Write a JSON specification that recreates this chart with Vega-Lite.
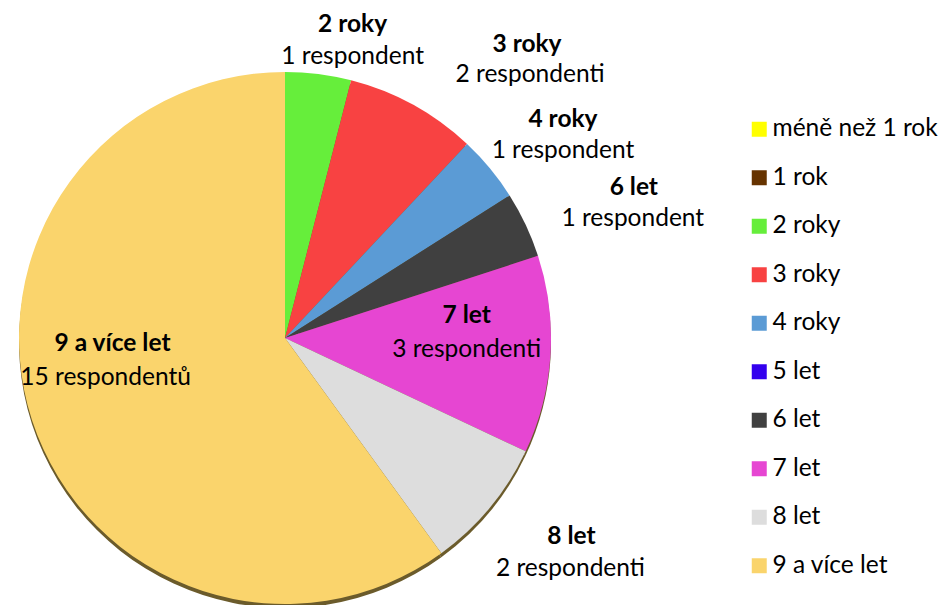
{
  "$schema": "https://vega.github.io/schema/vega-lite/v6.json",
  "width": 570,
  "height": 530,
  "autosize": "none",
  "padding": {"left": 0, "top": 73, "right": 372, "bottom": 2},
  "background": "white",
  "data": {"values": [
    {"cat": "méně než 1 rok", "n": 0, "idx": 1, "popis": "0 respondentů"},
    {"cat": "1 rok", "n": 0, "idx": 2, "popis": "0 respondentů"},
    {"cat": "2 roky", "n": 1, "idx": 3, "popis": "1 respondent"},
    {"cat": "3 roky", "n": 2, "idx": 4, "popis": "2 respondenti"},
    {"cat": "4 roky", "n": 1, "idx": 5, "popis": "1 respondent"},
    {"cat": "5 let", "n": 0, "idx": 6, "popis": "0 respondentů"},
    {"cat": "6 let", "n": 1, "idx": 7, "popis": "1 respondent"},
    {"cat": "7 let", "n": 3, "idx": 8, "popis": "3 respondenti"},
    {"cat": "8 let", "n": 2, "idx": 9, "popis": "2 respondenti"},
    {"cat": "9 a více let", "n": 15, "idx": 10, "popis": "15 respondentů"}
  ]},
  "encoding": {
    "theta": {"field": "n", "type": "quantitative", "stack": true},
    "order": {"field": "idx", "type": "quantitative"}
  },
  "layer": [
    {"mark": {"type": "arc", "radius": 266, "yOffset": 4, "fill": "#6b5b2b", "stroke": null},
     "encoding": {"detail": {"field": "cat"}}},
    {"mark": {"type": "arc", "radius": 266, "stroke": null},
     "encoding": {"color": {"field": "cat", "type": "nominal",
       "scale": {"domain": ["méně než 1 rok", "1 rok", "2 roky", "3 roky", "4 roky", "5 let", "6 let", "7 let", "8 let", "9 a více let"],
                 "range": ["#FFFF00", "#663300", "#66EE3B", "#F84242", "#5B9BD5", "#3300EE", "#404040", "#E646D2", "#DDDDDD", "#FAD46C"]},
       "legend": {"title": null, "orient": "none", "legendX": 747, "legendY": 44, "symbolType": "square", "symbolSize": 225, "symbolStrokeWidth": 0, "labelFontSize": 24.5, "labelFont": "Lato", "labelColor": "#000", "rowPadding": 23.5, "labelOffset": 1, "labelLimit": 300}}}},
    {"mark": {"type": "text", "radius": 300, "dx": 30, "dy": -15, "fontWeight": "bold"},
     "encoding": {"detail": {"field": "cat"}, "text": {"condition": {"test": "datum.cat === '2 roky'", "field": "cat"}, "value": ""}}},
    {"mark": {"type": "text", "radius": 300, "dx": 30, "dy": 17},
     "encoding": {"detail": {"field": "cat"}, "text": {"condition": {"test": "datum.cat === '2 roky'", "field": "popis"}, "value": ""}}},
    {"mark": {"type": "text", "radius": 330, "dx": 83, "dy": -4, "fontWeight": "bold"},
     "encoding": {"detail": {"field": "cat"}, "text": {"condition": {"test": "datum.cat === '3 roky'", "field": "cat"}, "value": ""}}},
    {"mark": {"type": "text", "radius": 330, "dx": 86, "dy": 26},
     "encoding": {"detail": {"field": "cat"}, "text": {"condition": {"test": "datum.cat === '3 roky'", "field": "popis"}, "value": ""}}},
    {"mark": {"type": "text", "radius": 340, "dx": 16, "dy": -1, "fontWeight": "bold"},
     "encoding": {"detail": {"field": "cat"}, "text": {"condition": {"test": "datum.cat === '4 roky'", "field": "cat"}, "value": ""}}},
    {"mark": {"type": "text", "radius": 340, "dx": 16, "dy": 30},
     "encoding": {"detail": {"field": "cat"}, "text": {"condition": {"test": "datum.cat === '4 roky'", "field": "popis"}, "value": ""}}},
    {"mark": {"type": "text", "radius": 370, "dx": 14, "dy": 8, "fontWeight": "bold"},
     "encoding": {"detail": {"field": "cat"}, "text": {"condition": {"test": "datum.cat === '6 let'", "field": "cat"}, "value": ""}}},
    {"mark": {"type": "text", "radius": 370, "dx": 13, "dy": 39},
     "encoding": {"detail": {"field": "cat"}, "text": {"condition": {"test": "datum.cat === '6 let'", "field": "popis"}, "value": ""}}},
    {"mark": {"type": "text", "radius": 182, "dx": 0, "dy": -33, "fontWeight": "bold"},
     "encoding": {"detail": {"field": "cat"}, "text": {"condition": {"test": "datum.cat === '7 let'", "field": "cat"}, "value": ""}}},
    {"mark": {"type": "text", "radius": 182, "dx": 0, "dy": 1},
     "encoding": {"detail": {"field": "cat"}, "text": {"condition": {"test": "datum.cat === '7 let'", "field": "popis"}, "value": ""}}},
    {"mark": {"type": "text", "radius": 360, "dx": 9, "dy": -30, "fontWeight": "bold"},
     "encoding": {"detail": {"field": "cat"}, "text": {"condition": {"test": "datum.cat === '8 let'", "field": "cat"}, "value": ""}}},
    {"mark": {"type": "text", "radius": 360, "dx": 8, "dy": 2},
     "encoding": {"detail": {"field": "cat"}, "text": {"condition": {"test": "datum.cat === '8 let'", "field": "popis"}, "value": ""}}},
    {"mark": {"type": "text", "radius": 175, "dx": -6, "dy": -48, "fontWeight": "bold"},
     "encoding": {"detail": {"field": "cat"}, "text": {"condition": {"test": "datum.cat === '9 a více let'", "field": "cat"}, "value": ""}}},
    {"mark": {"type": "text", "radius": 175, "dx": -13, "dy": -14},
     "encoding": {"detail": {"field": "cat"}, "text": {"condition": {"test": "datum.cat === '9 a více let'", "field": "popis"}, "value": ""}}}
  ],
  "config": {
    "view": {"stroke": null},
    "text": {"font": "Lato", "fontSize": 24.5, "color": "#000", "align": "center", "baseline": "middle"}
  }
}
